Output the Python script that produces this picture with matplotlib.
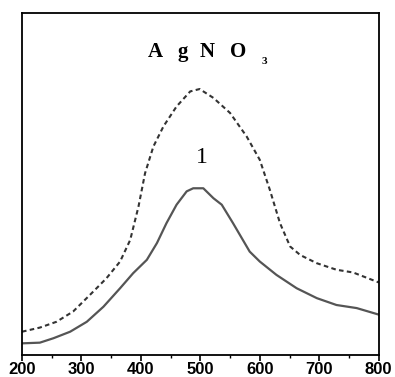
import matplotlib
matplotlib.use("Agg")
import matplotlib.pyplot as plt
from matplotlib.ticker import MultipleLocator
from matplotlib import font_manager

wl_solid = [200, 230, 253, 281, 309, 337, 365, 387, 410, 427, 443, 460, 477, 488, 505, 522, 536, 555, 583, 600, 628, 662, 696, 729, 763, 800]
abs_solid = [0.034, 0.036, 0.049, 0.068, 0.097, 0.141, 0.195, 0.239, 0.278, 0.327, 0.385, 0.439, 0.478, 0.487, 0.487, 0.458, 0.439, 0.385, 0.302, 0.273, 0.234, 0.195, 0.166, 0.146, 0.137, 0.118]

wl_dash = [200, 230, 258, 286, 314, 342, 365, 382, 396, 407, 421, 438, 460, 483, 499, 505, 522, 550, 578, 600, 617, 634, 651, 668, 696, 729, 757, 800]
abs_dash = [0.068, 0.080, 0.097, 0.127, 0.175, 0.224, 0.273, 0.336, 0.434, 0.531, 0.609, 0.668, 0.726, 0.770, 0.777, 0.770, 0.751, 0.707, 0.638, 0.570, 0.482, 0.385, 0.317, 0.292, 0.268, 0.249, 0.241, 0.212]

xticks = [200, 300, 400, 500, 600, 700, 800]

names = {f.name for f in font_manager.fontManager.ttflist}
tick_font = "Liberation Sans Narrow" if "Liberation Sans Narrow" in names else "Liberation Sans"

fig = plt.figure(figsize=(3.95, 3.77), dpi=100)
ax = fig.add_axes([0.0557, 0.0584, 0.903, 0.908])
ax.plot(wl_dash, abs_dash, color="#333333", lw=1.5, linestyle=(0, (2.2, 1.6)))
ax.plot(wl_solid, abs_solid, color="#555555", lw=1.6)
ax.set_xlim(200, 800)
ax.set_ylim(0, 1)
ax.set_yticks([])
ax.xaxis.set_major_locator(MultipleLocator(100))
ax.xaxis.set_minor_locator(MultipleLocator(50))
ax.set_xticks(xticks)
ax.tick_params(axis="x", which="major", direction="out", length=4, width=1.2, pad=1)
ax.tick_params(axis="x", which="minor", direction="out", length=2.5, width=1.0)
for lab in ax.get_xticklabels():
    lab.set_fontfamily(tick_font)
    lab.set_fontweight("bold")
    lab.set_fontsize(12)
for s in ax.spines.values():
    s.set_linewidth(1.3)

serif = dict(family="Liberation Serif", fontweight="bold", fontsize=15, ha="center", va="baseline")
for ch, xx in zip(["A", "g", "N", "O"], [424, 470, 511, 564]):
    ax.text(xx, 0.870, ch, **serif)
ax.text(608, 0.851, "3", family="Liberation Serif", fontweight="bold", fontsize=8, ha="center", va="baseline")
ax.text(503, 0.560, "1", family="Liberation Serif", fontsize=17, ha="center", va="baseline")

fig.savefig("out.png", dpi=100)
